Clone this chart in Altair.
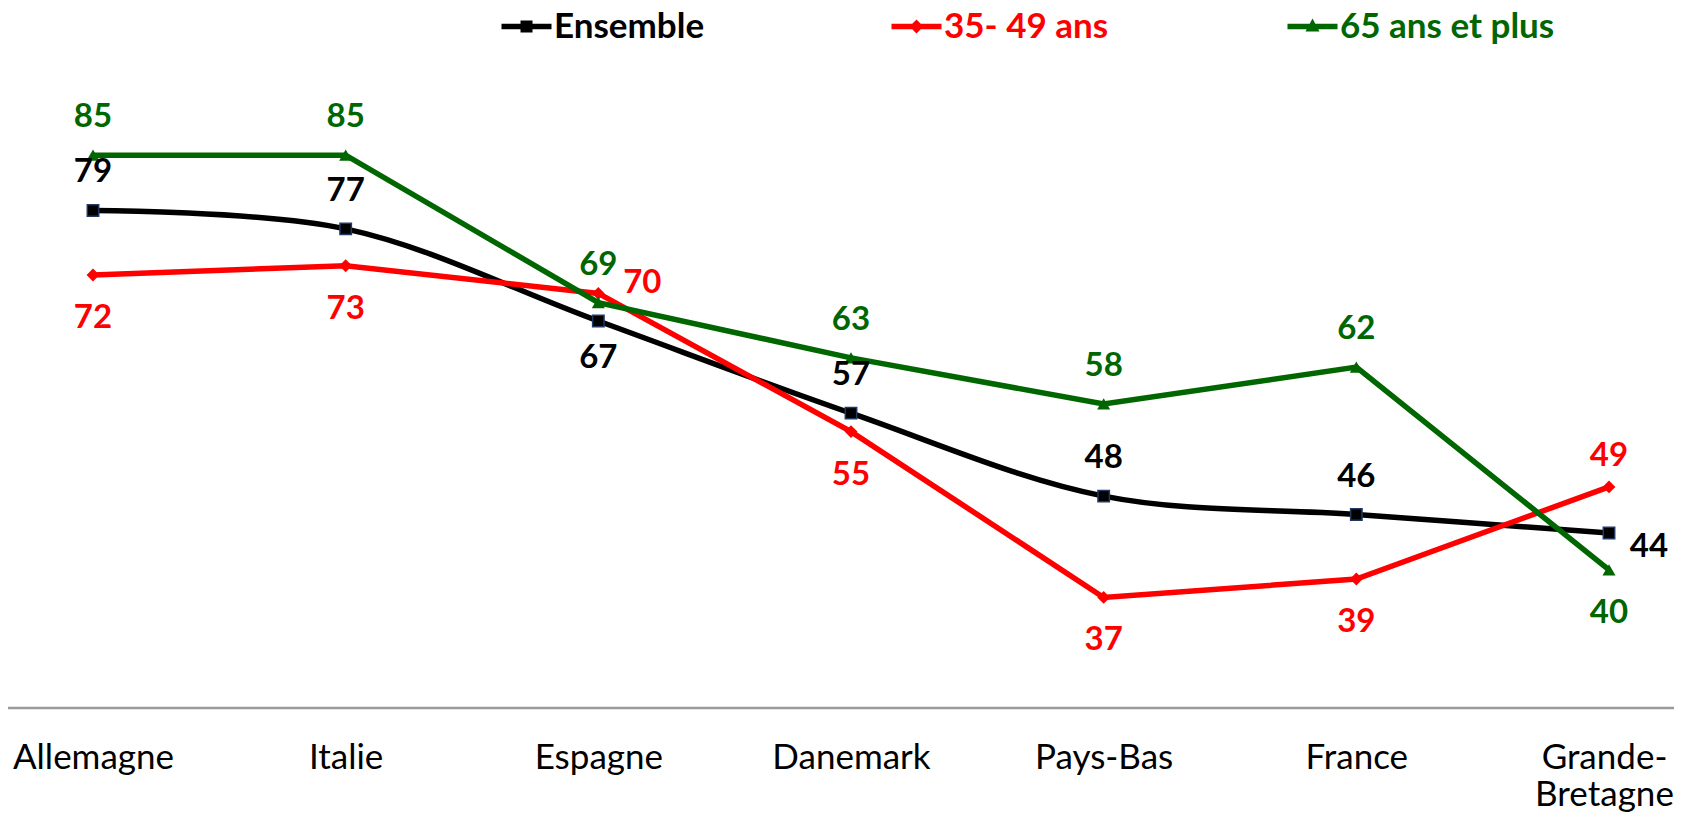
import altair as alt
import pandas as pd

categories = ["Allemagne", "Italie", "Espagne", "Danemark", "Pays-Bas", "France", "Grande-Bretagne"]
ensemble = [79, 77, 67, 57, 48, 46, 44]
age_35_49 = [72, 73, 70, 55, 37, 39, 49]
age_65_plus = [85, 85, 69, 63, 58, 62, 40]
series_names = ["Ensemble", "35- 49 ans", "65 ans et plus"]
baseline_value = [25]

# label placement (style, not data)
ens_pos = ["above", "above", "below_near", "above", "above", "above", "right_down"]
red_pos = ["below", "below", "right_up", "below", "below", "below", "above_near"]
green_pos = ["above", "above", "above", "above", "above", "above", "below"]

offsets = {
    "above": (0, -38),
    "above_near": (0, -31),
    "below": (0, 43),
    "below_near": (0, 37),
    "right_up": (44, -10),
    "right_down": (40, 14),
}

colors = ["#000000", "#FF0000", "#006600"]
shapes = ["square", "diamond", "triangle-up"]
sizes = [130, 165, 170]
interps = ["catmull-rom", "linear", "linear"]
LINE = "M-1,-0.18H2.333V0.18H-1Z "
legend_paths = [
    LINE + "M0.267,-0.4H1.067V0.4H0.267Z",
    LINE + "M0.2,0L0.667,-0.467L1.133,0L0.667,0.467Z",
    LINE + "M0.2,0.33L0.667,-0.53L1.133,0.33Z",
]
legend_x = [491, 881, 1277]

FONT = "Lato"

x_enc = alt.X(
    "cat:N",
    sort=categories,
    scale=alt.Scale(type="point", range=[85, 1601], padding=0),
    axis=alt.Axis(
        title=None,
        ticks=False,
        grid=False,
        domain=False,
        labelFont=FONT,
        labelFontSize=35,
        labelColor="#000000",
        labelPadding=32,
        labelAngle=0,
        labelBaseline="top",
        labelLineHeight=37,
        labelOverlap=False,
        labelOffset={"condition": {"test": "datum.value == 'Grande-Bretagne'", "value": -5}, "value": 0},
        labelExpr="datum.label == 'Grande-Bretagne' ? ['Grande-', 'Bretagne'] : datum.label",
    ),
)
y_enc = alt.Y("value:Q", scale=alt.Scale(domain=[25, 100]), axis=None)

series_values = [ensemble, age_35_49, age_65_plus]
series_pos = [ens_pos, red_pos, green_pos]

baseline = alt.Chart(pd.DataFrame({"v": baseline_value})).mark_rule(
    color="#9a9a9a", strokeWidth=2.5
).encode(y=alt.Y("v:Q", scale=alt.Scale(domain=[25, 100]), axis=None),
         x=alt.value(0), x2=alt.value("width"))

layers = [baseline]
label_layers = []
for i, name in enumerate(series_names):
    df = pd.DataFrame({
        "cat": categories,
        "value": series_values[i],
        "serie": name,
        "pos": series_pos[i],
    })
    base = alt.Chart(df)
    line = base.mark_line(
        strokeWidth=5.5, interpolate=interps[i], color=colors[i]
    ).encode(x=x_enc, y=y_enc)
    pt_kwargs = dict(filled=True, shape=shapes[i], size=sizes[i], opacity=1)
    if i == 0:
        pt_kwargs.update(stroke="#1F3864", strokeWidth=1.5)
    pts = base.mark_point(**pt_kwargs).encode(
        x=x_enc,
        y=y_enc,
        color=alt.Color(
            "serie:N",
            scale=alt.Scale(domain=[name], range=[colors[i]]),
            legend=alt.Legend(
                title=None,
                orient="none",
                legendX=legend_x[i],
                legendY=-8,
                padding=0,
                symbolType=legend_paths[i],
                symbolSize=900,
                symbolFillColor=colors[i],
                symbolStrokeColor=colors[i],
                symbolStrokeWidth=0,
                symbolOpacity=1,
                labelFont=FONT,
                labelFontSize=35,
                labelFontWeight="bold",
                labelColor=colors[i],
                labelLimit=400,
                labelOffset=20,
            ),
        ),
    )
    layers.append(alt.layer(line, pts))
    for p, (dx, dy) in offsets.items():
        if p in series_pos[i]:
            label_layers.append(
                base.transform_filter(alt.datum.pos == p)
                .mark_text(
                    font=FONT, fontSize=33, fontWeight="bold", color=colors[i],
                    dx=dx, dy=dy, align="center", baseline="middle",
                )
                .encode(x=x_enc, y=y_enc, text=alt.Text("value:Q"))
            )

chart = (
    alt.layer(*layers, *label_layers)
    .resolve_scale(color="independent")
    .properties(
        width=1666,
        height=691,
        padding={"top": 9, "bottom": 104, "left": 0, "right": 0},
        autosize=alt.AutoSizeParams(type="none"),
        background="white",
    )
    .configure_view(stroke=None)
)

chart.save("out.html", embed_options={"renderer": "svg", "actions": False})
